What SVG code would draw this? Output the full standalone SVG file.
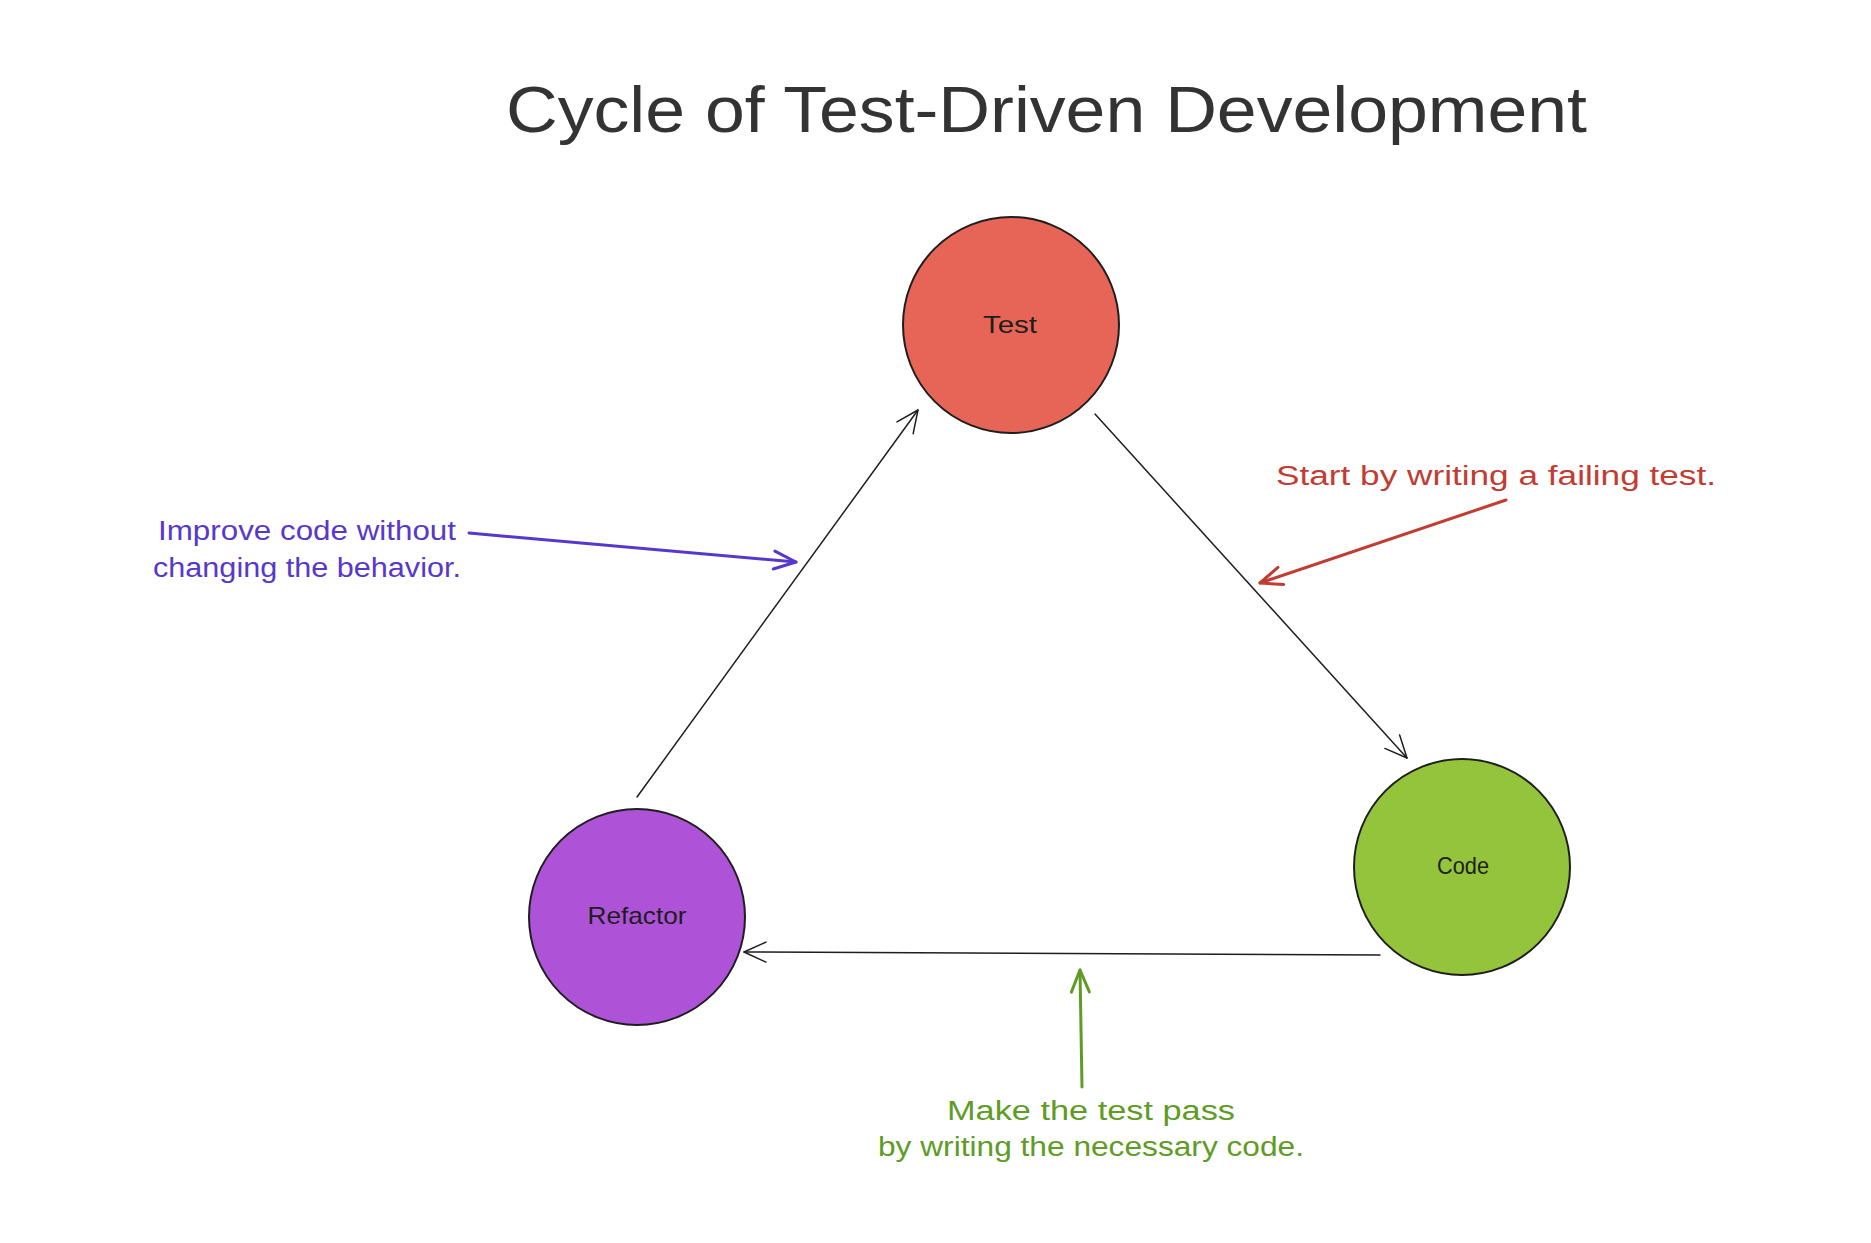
<svg xmlns="http://www.w3.org/2000/svg" width="1871" height="1243" viewBox="0 0 1871 1243">
  <style>
    .title { font-family: "Liberation Sans", "DejaVu Sans", sans-serif; font-size: 64px; fill: #333333; }
    .node { stroke: #1e1e1e; stroke-width: 2; }
    .label { font-family: "Liberation Sans", "DejaVu Sans", sans-serif; font-size: 24px; fill: #1e1e1e; text-anchor: middle; }
    .note { font-family: "Liberation Sans", "DejaVu Sans", sans-serif; font-size: 27px; text-anchor: middle; }
    .flow { stroke: #1e1e1e; stroke-width: 1.5; fill: none; stroke-linecap: round; }
    .ann { stroke-width: 3; fill: none; stroke-linecap: round; }
  </style>
  <defs>
    <marker id="head-black" viewBox="-30 -15 35 30" markerWidth="35" markerHeight="30" refX="0" refY="0" orient="auto" markerUnits="userSpaceOnUse">
      <path d="M -22 -10 L 0 0 L -22 10" fill="none" stroke="#1e1e1e" stroke-width="1.5" stroke-linecap="round" stroke-linejoin="round"/>
    </marker>
    <marker id="head-purple" viewBox="-30 -15 35 30" markerWidth="35" markerHeight="30" refX="0" refY="0" orient="auto" markerUnits="userSpaceOnUse">
      <path d="M -22 -9 L 0 0 L -22 9" fill="none" stroke="#5838cc" stroke-width="3" stroke-linecap="round" stroke-linejoin="round"/>
    </marker>
    <marker id="head-red" viewBox="-30 -15 35 30" markerWidth="35" markerHeight="30" refX="0" refY="0" orient="auto" markerUnits="userSpaceOnUse">
      <path d="M -22 -9 L 0 0 L -22 9" fill="none" stroke="#c23c31" stroke-width="3" stroke-linecap="round" stroke-linejoin="round"/>
    </marker>
    <marker id="head-green" viewBox="-30 -15 35 30" markerWidth="35" markerHeight="30" refX="0" refY="0" orient="auto" markerUnits="userSpaceOnUse">
      <path d="M -22 -9 L 0 0 L -22 9" fill="none" stroke="#5e9c26" stroke-width="3" stroke-linecap="round" stroke-linejoin="round"/>
    </marker>
  </defs>

  <rect width="1871" height="1243" fill="#ffffff"/>

  <text id="title" class="title" x="506" y="132" textLength="1081" lengthAdjust="spacingAndGlyphs">Cycle of Test-Driven Development</text>

  <g id="connectors">
    <line class="flow" x1="1095" y1="414" x2="1407" y2="758" marker-end="url(#head-black)"/>
    <line class="flow" x1="1380" y1="955" x2="744" y2="952" marker-end="url(#head-black)"/>
    <line class="flow" x1="637" y1="797" x2="918" y2="410" marker-end="url(#head-black)"/>
    <line class="ann" stroke="#5838cc" x1="469" y1="533" x2="796" y2="562" marker-end="url(#head-purple)"/>
    <line class="ann" stroke="#c23c31" x1="1506" y1="500" x2="1260" y2="583" marker-end="url(#head-red)"/>
    <line class="ann" stroke="#5e9c26" x1="1082" y1="1087" x2="1080" y2="970" marker-end="url(#head-green)"/>
  </g>

  <g id="node-test">
    <circle class="node" cx="1011" cy="325" r="108" fill="#e66557"/>
    <text class="label" x="1010" y="333" textLength="54" lengthAdjust="spacingAndGlyphs">Test</text>
  </g>

  <g id="node-code">
    <circle class="node" cx="1462" cy="867" r="108" fill="#93c43b"/>
    <text class="label" x="1463" y="874" textLength="52" lengthAdjust="spacingAndGlyphs">Code</text>
  </g>

  <g id="node-refactor">
    <circle class="node" cx="637" cy="917" r="108" fill="#ae52d8"/>
    <text class="label" x="637" y="924" textLength="99" lengthAdjust="spacingAndGlyphs">Refactor</text>
  </g>

  <g id="note-refactor">
    <text class="note" fill="#5838cc" x="307" y="540" textLength="298" lengthAdjust="spacingAndGlyphs">Improve code without</text>
    <text class="note" fill="#5838cc" x="307" y="577" textLength="308" lengthAdjust="spacingAndGlyphs">changing the behavior.</text>
  </g>

  <g id="note-test">
    <text class="note" fill="#c23c31" x="1496" y="485" textLength="440" lengthAdjust="spacingAndGlyphs">Start by writing a failing test.</text>
  </g>

  <g id="note-code">
    <text class="note" fill="#5e9c26" x="1091" y="1120" textLength="288" lengthAdjust="spacingAndGlyphs">Make the test pass</text>
    <text class="note" fill="#5e9c26" x="1091" y="1156" textLength="426" lengthAdjust="spacingAndGlyphs">by writing the necessary code.</text>
  </g>
</svg>
